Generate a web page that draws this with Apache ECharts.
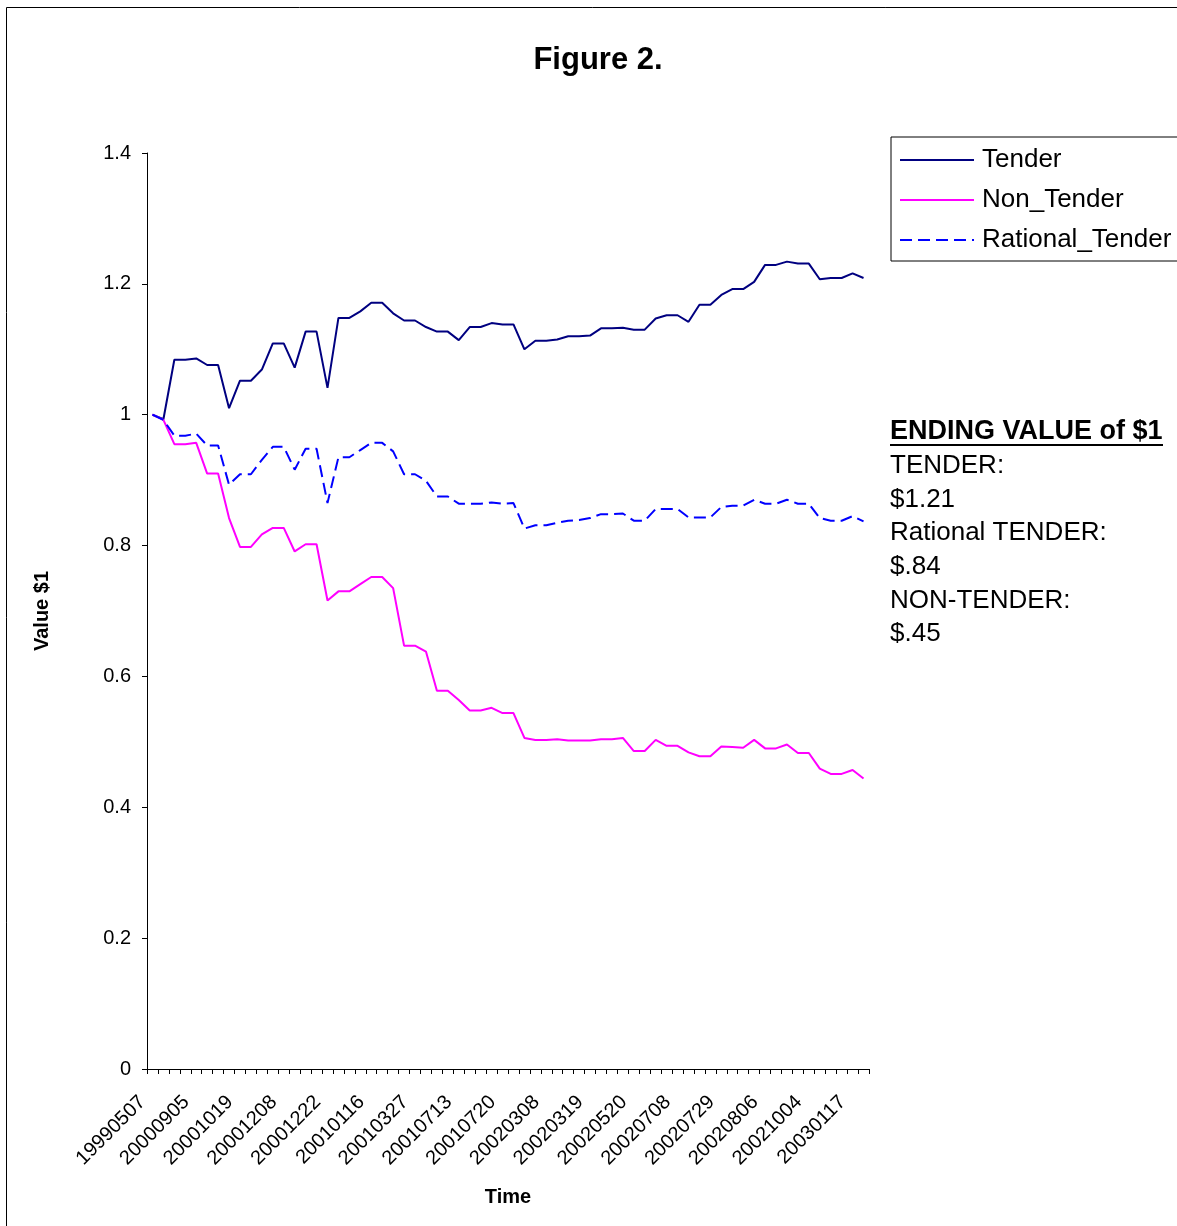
<!DOCTYPE html>
<html><head><meta charset="utf-8">
<script src="https://cdn.jsdelivr.net/npm/echarts@6/dist/echarts.min.js"></script>
<style>html,body{margin:0;padding:0;background:#fff}#c{width:1177px;height:1226px}</style>
</head><body><div id="c"></div>
<script>
const tickLabels = ['19990507','20000905','20001019','20001208','20001222','20010116','20010327','20010713','20010720','20020308','20020319','20020520','20020708','20020729','20020806','20021004','20030117'];
const tender = [1.000,0.993,1.084,1.084,1.086,1.076,1.076,1.010,1.052,1.052,
  1.069,1.109,1.109,1.072,1.127,1.127,1.041,1.148,1.148,1.158,
  1.171,1.171,1.155,1.144,1.144,1.134,1.127,1.127,1.114,1.134,
  1.134,1.140,1.138,1.138,1.100,1.113,1.113,1.115,1.120,1.120,
  1.121,1.132,1.132,1.133,1.130,1.130,1.147,1.152,1.152,1.142,
  1.168,1.168,1.183,1.192,1.192,1.203,1.229,1.229,1.234,1.231,
  1.231,1.207,1.209,1.209,1.216,1.209];
const nonTender = [1.000,0.992,0.955,0.955,0.957,0.910,0.910,0.842,0.798,0.798,
  0.817,0.827,0.827,0.791,0.802,0.802,0.716,0.730,0.730,0.741,
  0.752,0.752,0.735,0.647,0.647,0.638,0.578,0.578,0.564,0.548,
  0.548,0.552,0.544,0.544,0.506,0.503,0.503,0.504,0.502,0.502,
  0.502,0.504,0.504,0.506,0.486,0.486,0.503,0.494,0.494,0.484,
  0.478,0.478,0.493,0.492,0.491,0.503,0.490,0.490,0.496,0.483,
  0.483,0.459,0.451,0.451,0.457,0.444];
const rationalTender = [1.000,0.992,0.968,0.968,0.971,0.953,0.953,0.893,0.909,0.909,
  0.931,0.951,0.951,0.916,0.948,0.948,0.865,0.935,0.935,0.946,
  0.957,0.957,0.944,0.909,0.909,0.899,0.875,0.875,0.864,0.864,
  0.864,0.866,0.864,0.865,0.826,0.831,0.831,0.835,0.838,0.839,
  0.842,0.848,0.848,0.849,0.838,0.838,0.856,0.856,0.856,0.843,
  0.843,0.843,0.859,0.861,0.861,0.870,0.864,0.864,0.870,0.864,
  0.864,0.842,0.838,0.838,0.845,0.837];
const yTicks = {min: 0, max: 1.4, interval: 0.2};
const noteLines = ['TENDER:', '$1.21', 'Rational TENDER:', '$.84', 'NON-TENDER:', '$.45'];
const noteTitle = 'ENDING VALUE of $1';

const categories = tender.map((_, i) => i % 4 === 0 ? tickLabels[i / 4] : 'c' + i);
const FF = 'Liberation Sans, Arial, sans-serif';

const chart = echarts.init(document.getElementById('c'), null, {renderer: 'canvas'});
const noteEls = [
  {type: 'text', x: 890, y: 432, style: {text: noteTitle, font: 'bold 27px ' + FF, fill: '#000', textVerticalAlign: 'middle'}},
  {type: 'rect', shape: {x: 890, y: 444, width: 273, height: 2}, style: {fill: '#000'}}
];
noteLines.forEach((t, i) => {
  noteEls.push({type: 'text', x: 890, y: 466 + i * 33.6, style: {text: t, font: '26px ' + FF, fill: '#000', textVerticalAlign: 'middle'}});
});

chart.setOption({
  animation: false,
  backgroundColor: '#fff',
  textStyle: {fontFamily: FF},
  graphic: [
    {type: 'rect', shape: {x: 6.5, y: 7.5, width: 1300, height: 1300}, style: {fill: 'none', stroke: '#000', lineWidth: 1}},
    {type: 'text', x: 598, y: 60, style: {text: 'Figure 2.', font: 'bold 31px ' + FF, fill: '#000', textAlign: 'center', textVerticalAlign: 'middle'}}
  ].concat(noteEls),
  legend: {
    orient: 'vertical',
    left: 891, top: 137,
    padding: [9, 20, 7, 8],
    itemWidth: 74, itemHeight: 14, itemGap: 12,
    borderColor: '#000', borderWidth: 1,
    backgroundColor: '#fff',
    itemStyle: {opacity: 0},
    textStyle: {fontSize: 26, lineHeight: 28, color: '#000', fontFamily: FF, padding: [0, 0, 0, 3]},
    data: ['Tender', 'Non_Tender', 'Rational_Tender']
  },
  grid: {left: 147, top: 153, width: 722, height: 916, containLabel: false},
  xAxis: {
    type: 'category',
    data: categories,
    boundaryGap: true,
    name: 'Time', nameLocation: 'middle', nameGap: 118,
    nameTextStyle: {fontWeight: 'bold', fontSize: 20, color: '#000', fontFamily: FF},
    axisLine: {lineStyle: {color: '#000', width: 1}},
    axisTick: {show: true, interval: 0, length: 5, lineStyle: {color: '#000'}},
    axisLabel: {interval: 3, rotate: 45, fontSize: 20, color: '#000', margin: 20, padding: [0, 14, 0, 0], fontFamily: FF},
    splitLine: {show: false}
  },
  yAxis: {
    type: 'value',
    min: yTicks.min, max: yTicks.max, interval: yTicks.interval,
    name: 'Value $1', nameLocation: 'middle', nameGap: 95,
    nameTextStyle: {fontWeight: 'bold', fontSize: 20, color: '#000', fontFamily: FF},
    axisLine: {show: true, lineStyle: {color: '#000', width: 1}},
    axisTick: {show: true, length: 5, lineStyle: {color: '#000'}},
    axisLabel: {fontSize: 20, color: '#000', margin: 16, fontFamily: FF},
    splitLine: {show: false}
  },
  series: [
    {name: 'Tender', type: 'line', data: tender, symbol: 'none', color: '#000080', lineStyle: {color: '#000080', width: 2}},
    {name: 'Non_Tender', type: 'line', data: nonTender, symbol: 'none', color: '#FF00FF', lineStyle: {color: '#FF00FF', width: 2}},
    {name: 'Rational_Tender', type: 'line', data: rationalTender, symbol: 'none', color: '#0000FF', lineStyle: {color: '#0000FF', width: 2, type: [12, 6]}}
  ]
});
</script></body></html>
